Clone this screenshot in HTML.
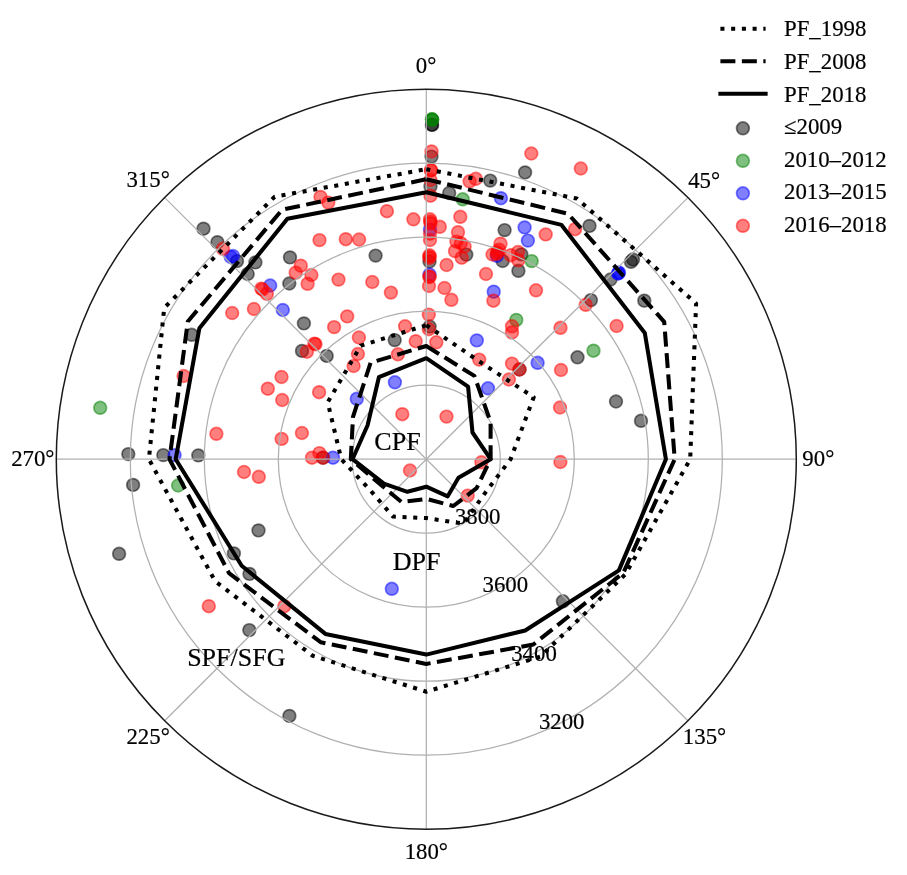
<!DOCTYPE html>
<html lang="en"><head><meta charset="utf-8"><title>Polar permafrost chart</title>
<style>html,body{margin:0;padding:0;background:#fff}svg{display:block}text{font-family:"Liberation Serif", "Times New Roman", serif;font-size:22.8px;fill:#000;stroke:#000;stroke-width:0.2px}</style>
</head><body>
<svg width="907" height="875" viewBox="0 0 907 875">
<rect width="907" height="875" fill="#fff"/>
<g fill="#000" fill-opacity="0.5" stroke="#000" stroke-opacity="0.5" stroke-width="1.7">
<circle cx="432" cy="124.7" r="6.35"/>
<circle cx="432" cy="124.9" r="6.35"/>
<circle cx="431.5" cy="156.6" r="6.35"/>
<circle cx="430.5" cy="186.4" r="6.35"/>
<circle cx="429.5" cy="261.5" r="6.35"/>
<circle cx="429.6" cy="326.5" r="6.35"/>
<circle cx="375.6" cy="255.6" r="6.35"/>
<circle cx="449.2" cy="193" r="6.35"/>
<circle cx="490.2" cy="180.6" r="6.35"/>
<circle cx="525.1" cy="172.4" r="6.35"/>
<circle cx="504.6" cy="230.1" r="6.35"/>
<circle cx="466.3" cy="254.6" r="6.35"/>
<circle cx="502.6" cy="261" r="6.35"/>
<circle cx="518.4" cy="270.8" r="6.35"/>
<circle cx="521.3" cy="254.4" r="6.35"/>
<circle cx="589.5" cy="225.9" r="6.35"/>
<circle cx="633" cy="259.5" r="6.35"/>
<circle cx="631" cy="261.8" r="6.35"/>
<circle cx="610.5" cy="279.5" r="6.35"/>
<circle cx="590.9" cy="300.1" r="6.35"/>
<circle cx="644.3" cy="300.7" r="6.35"/>
<circle cx="577.5" cy="357.3" r="6.35"/>
<circle cx="616" cy="401.5" r="6.35"/>
<circle cx="641" cy="420.8" r="6.35"/>
<circle cx="562.9" cy="601.3" r="6.35"/>
<circle cx="233.9" cy="553.4" r="6.35"/>
<circle cx="249.5" cy="573.9" r="6.35"/>
<circle cx="249.3" cy="630.1" r="6.35"/>
<circle cx="289.4" cy="715.9" r="6.35"/>
<circle cx="128.3" cy="454.1" r="6.35"/>
<circle cx="163.3" cy="455.1" r="6.35"/>
<circle cx="198.3" cy="455.4" r="6.35"/>
<circle cx="133.1" cy="484.9" r="6.35"/>
<circle cx="258.5" cy="530.4" r="6.35"/>
<circle cx="119.1" cy="553.8" r="6.35"/>
<circle cx="203.5" cy="228.7" r="6.35"/>
<circle cx="217.4" cy="242.2" r="6.35"/>
<circle cx="237" cy="261.1" r="6.35"/>
<circle cx="255.4" cy="262.4" r="6.35"/>
<circle cx="247.7" cy="274" r="6.35"/>
<circle cx="290" cy="257.4" r="6.35"/>
<circle cx="289.3" cy="283.5" r="6.35"/>
<circle cx="303.9" cy="323.4" r="6.35"/>
<circle cx="191.7" cy="334.8" r="6.35"/>
<circle cx="302" cy="350.9" r="6.35"/>
<circle cx="326.7" cy="355.9" r="6.35"/>
<circle cx="394.7" cy="340.1" r="6.35"/>
<circle cx="519.5" cy="369.5" r="6.35"/>
<circle cx="323" cy="457.7" r="6.35"/>
</g>
<g fill="#008000" fill-opacity="0.5" stroke="#008000" stroke-opacity="0.5" stroke-width="1.7">
<circle cx="432" cy="119.5" r="6.35"/>
<circle cx="432" cy="119.3" r="6.35"/>
<circle cx="432.2" cy="119.8" r="6.35"/>
<circle cx="462.7" cy="199.3" r="6.35"/>
<circle cx="531.7" cy="261.1" r="6.35"/>
<circle cx="593.5" cy="350.7" r="6.35"/>
<circle cx="516.3" cy="319.9" r="6.35"/>
<circle cx="100.2" cy="407.8" r="6.35"/>
<circle cx="178.1" cy="485.5" r="6.35"/>
</g>
<g fill="#00f" fill-opacity="0.5" stroke="#00f" stroke-opacity="0.5" stroke-width="1.7">
<circle cx="430" cy="229.6" r="6.35"/>
<circle cx="429.5" cy="274.5" r="6.35"/>
<circle cx="500.9" cy="198.2" r="6.35"/>
<circle cx="524.6" cy="227.4" r="6.35"/>
<circle cx="527.9" cy="240.6" r="6.35"/>
<circle cx="496.9" cy="255.8" r="6.35"/>
<circle cx="618" cy="273.5" r="6.35"/>
<circle cx="619" cy="272.5" r="6.35"/>
<circle cx="618.4" cy="273.2" r="6.35"/>
<circle cx="493.7" cy="291.7" r="6.35"/>
<circle cx="476.8" cy="340.4" r="6.35"/>
<circle cx="537.6" cy="362.8" r="6.35"/>
<circle cx="488" cy="388.3" r="6.35"/>
<circle cx="391.8" cy="588.8" r="6.35"/>
<circle cx="174.6" cy="455.1" r="6.35"/>
<circle cx="230.8" cy="257" r="6.35"/>
<circle cx="233" cy="256" r="6.35"/>
<circle cx="270.2" cy="285.5" r="6.35"/>
<circle cx="282.8" cy="310" r="6.35"/>
<circle cx="394.9" cy="382.3" r="6.35"/>
<circle cx="356.8" cy="398.8" r="6.35"/>
<circle cx="333" cy="457.7" r="6.35"/>
</g>
<g fill="#f00" fill-opacity="0.5" stroke="#f00" stroke-opacity="0.5" stroke-width="1.7">
<circle cx="431.5" cy="151.4" r="6.35"/>
<circle cx="431" cy="170" r="6.35"/>
<circle cx="431" cy="170.5" r="6.35"/>
<circle cx="430.3" cy="221.5" r="6.35"/>
<circle cx="429.5" cy="256.5" r="6.35"/>
<circle cx="429.5" cy="276.5" r="6.35"/>
<circle cx="430.5" cy="180" r="6.35"/>
<circle cx="430.5" cy="195.7" r="6.35"/>
<circle cx="430" cy="219.3" r="6.35"/>
<circle cx="430.5" cy="223.4" r="6.35"/>
<circle cx="430" cy="233.7" r="6.35"/>
<circle cx="430" cy="240" r="6.35"/>
<circle cx="429.5" cy="255.3" r="6.35"/>
<circle cx="429.5" cy="258" r="6.35"/>
<circle cx="429.5" cy="277" r="6.35"/>
<circle cx="429" cy="286" r="6.35"/>
<circle cx="428.8" cy="314.6" r="6.35"/>
<circle cx="428.8" cy="329.2" r="6.35"/>
<circle cx="386.9" cy="211.2" r="6.35"/>
<circle cx="413.4" cy="219.3" r="6.35"/>
<circle cx="345.8" cy="239.2" r="6.35"/>
<circle cx="359.1" cy="239.5" r="6.35"/>
<circle cx="372.3" cy="282" r="6.35"/>
<circle cx="338.5" cy="279.6" r="6.35"/>
<circle cx="439.8" cy="226.8" r="6.35"/>
<circle cx="460.3" cy="216.8" r="6.35"/>
<circle cx="458" cy="232.2" r="6.35"/>
<circle cx="456.4" cy="241.6" r="6.35"/>
<circle cx="460.8" cy="243.2" r="6.35"/>
<circle cx="464.6" cy="246.5" r="6.35"/>
<circle cx="455" cy="251.1" r="6.35"/>
<circle cx="461.7" cy="257.7" r="6.35"/>
<circle cx="446.6" cy="265" r="6.35"/>
<circle cx="469.6" cy="181.3" r="6.35"/>
<circle cx="475.8" cy="178.8" r="6.35"/>
<circle cx="500.5" cy="243.7" r="6.35"/>
<circle cx="499" cy="249.7" r="6.35"/>
<circle cx="492.5" cy="254.5" r="6.35"/>
<circle cx="496.9" cy="253.8" r="6.35"/>
<circle cx="497.2" cy="252.2" r="6.35"/>
<circle cx="486" cy="274" r="6.35"/>
<circle cx="510.8" cy="255.2" r="6.35"/>
<circle cx="518" cy="252" r="6.35"/>
<circle cx="518.3" cy="260.3" r="6.35"/>
<circle cx="531.3" cy="153.5" r="6.35"/>
<circle cx="580.8" cy="168.5" r="6.35"/>
<circle cx="545.7" cy="234.4" r="6.35"/>
<circle cx="575.1" cy="229.2" r="6.35"/>
<circle cx="585.7" cy="304.8" r="6.35"/>
<circle cx="560.5" cy="327.8" r="6.35"/>
<circle cx="616.6" cy="326" r="6.35"/>
<circle cx="561" cy="370" r="6.35"/>
<circle cx="560" cy="407.5" r="6.35"/>
<circle cx="560.4" cy="462" r="6.35"/>
<circle cx="208.8" cy="606.2" r="6.35"/>
<circle cx="284.3" cy="606.2" r="6.35"/>
<circle cx="216.4" cy="433.8" r="6.35"/>
<circle cx="244" cy="472" r="6.35"/>
<circle cx="258.8" cy="476.8" r="6.35"/>
<circle cx="183.6" cy="376" r="6.35"/>
<circle cx="223" cy="248.8" r="6.35"/>
<circle cx="300.8" cy="265.7" r="6.35"/>
<circle cx="295.7" cy="272.7" r="6.35"/>
<circle cx="311.4" cy="275" r="6.35"/>
<circle cx="307.6" cy="283.8" r="6.35"/>
<circle cx="261.3" cy="288.6" r="6.35"/>
<circle cx="262.5" cy="289.5" r="6.35"/>
<circle cx="266.9" cy="293.8" r="6.35"/>
<circle cx="232.2" cy="313" r="6.35"/>
<circle cx="253.9" cy="309" r="6.35"/>
<circle cx="306.9" cy="351.7" r="6.35"/>
<circle cx="281.5" cy="377" r="6.35"/>
<circle cx="267.8" cy="388.7" r="6.35"/>
<circle cx="282.2" cy="400" r="6.35"/>
<circle cx="320.5" cy="196.9" r="6.35"/>
<circle cx="328.3" cy="202.6" r="6.35"/>
<circle cx="319.5" cy="240.1" r="6.35"/>
<circle cx="390.9" cy="292.6" r="6.35"/>
<circle cx="444.5" cy="288" r="6.35"/>
<circle cx="451.4" cy="299.8" r="6.35"/>
<circle cx="347.2" cy="316.4" r="6.35"/>
<circle cx="334.1" cy="327.1" r="6.35"/>
<circle cx="358.9" cy="337.5" r="6.35"/>
<circle cx="314.4" cy="343.6" r="6.35"/>
<circle cx="315.5" cy="344.2" r="6.35"/>
<circle cx="357.9" cy="354" r="6.35"/>
<circle cx="353.6" cy="366" r="6.35"/>
<circle cx="405.1" cy="326.3" r="6.35"/>
<circle cx="415.7" cy="341.2" r="6.35"/>
<circle cx="436.3" cy="342.3" r="6.35"/>
<circle cx="397.9" cy="354.3" r="6.35"/>
<circle cx="319.1" cy="392.2" r="6.35"/>
<circle cx="402.3" cy="414.2" r="6.35"/>
<circle cx="446.5" cy="416.6" r="6.35"/>
<circle cx="493.4" cy="300.7" r="6.35"/>
<circle cx="536" cy="290.3" r="6.35"/>
<circle cx="512" cy="326.3" r="6.35"/>
<circle cx="512" cy="332.4" r="6.35"/>
<circle cx="479.2" cy="359.6" r="6.35"/>
<circle cx="512" cy="363.6" r="6.35"/>
<circle cx="519.5" cy="369.5" r="6.35"/>
<circle cx="508.9" cy="379.5" r="6.35"/>
<circle cx="481.4" cy="462.3" r="6.35"/>
<circle cx="410" cy="470.5" r="6.35"/>
<circle cx="467.7" cy="495.6" r="6.35"/>
<circle cx="301.9" cy="433" r="6.35"/>
<circle cx="281.6" cy="438.9" r="6.35"/>
<circle cx="312" cy="457.7" r="6.35"/>
<circle cx="319.4" cy="453.1" r="6.35"/>
<circle cx="323" cy="457.7" r="6.35"/>
</g>
<g fill="none" stroke="#b0b0b0" stroke-width="1.25">
<circle cx="426.3" cy="459.2" r="74"/>
<circle cx="426.3" cy="459.2" r="148"/>
<circle cx="426.3" cy="459.2" r="222"/>
<circle cx="426.3" cy="459.2" r="296"/>
<line x1="426.3" y1="459.2" x2="426.3" y2="89.2"/>
<line x1="426.3" y1="459.2" x2="687.9" y2="197.6"/>
<line x1="426.3" y1="459.2" x2="796.3" y2="459.2"/>
<line x1="426.3" y1="459.2" x2="687.9" y2="720.8"/>
<line x1="426.3" y1="459.2" x2="426.3" y2="829.2"/>
<line x1="426.3" y1="459.2" x2="164.7" y2="720.8"/>
<line x1="426.3" y1="459.2" x2="56.3" y2="459.2"/>
<line x1="426.3" y1="459.2" x2="164.7" y2="197.6"/>
</g>
<polygon points="426.3,169.2 576.8,198.5 696.1,303.4 690.2,459.2 625.5,574.2 540.3,656.7 426.3,691.7 312.8,655.8 215.1,581.2 148.9,459.2 164.2,307.9 274.7,196.7" fill="none" stroke="#000" stroke-width="4.05" stroke-linejoin="round" stroke-dasharray="4.05 6.68"/>
<polygon points="426.3,179.2 568.0,213.7 664.2,321.8 674.7,459.2 623.3,572.9 533.3,644.5 426.3,663.9 320.6,642.2 229.0,573.1 169.5,459.2 187.8,321.5 282.2,209.7" fill="none" stroke="#000" stroke-width="4.05" stroke-linejoin="round" stroke-dasharray="14.98 6.48"/>
<polygon points="426.3,192.2 561.5,224.9 644.8,333.0 665.9,459.2 618.9,570.4 525.2,630.5 426.3,654.6 325.4,633.9 241.7,565.8 175.7,459.2 199.4,328.2 287.4,218.7" fill="none" stroke="#000" stroke-width="4.05" stroke-linejoin="round" />
<polygon points="426.3,325.2 481.8,363.1 533.7,397.2 510.6,459.2 485.0,493.1 463.5,523.6 426.3,518.1 393.1,516.6 371.0,491.1 341.3,459.2 327.7,402.3 360.7,345.7" fill="none" stroke="#000" stroke-width="4.05" stroke-linejoin="round" stroke-dasharray="4.05 6.68"/>
<polygon points="426.3,346.0 474.4,375.9 490.6,422.1 490.6,459.2 476.6,488.2 453.3,506.0 426.3,498.9 401.6,502.1 381.3,485.2 350.8,459.2 353.0,416.9 370.6,362.7" fill="none" stroke="#000" stroke-width="4.05" stroke-linejoin="round" stroke-dasharray="14.98 6.48"/>
<polygon points="426.3,358.2 468.1,386.7 472.5,432.5 490.6,459.2 458.5,477.8 447.7,496.3 426.3,486.7 407.4,491.8 383.9,483.7 352.5,459.2 367.6,425.3 378.9,377.2" fill="none" stroke="#000" stroke-width="4.05" stroke-linejoin="round" />
<circle cx="426.3" cy="459.2" r="370.0" fill="none" stroke="#1a1a1a" stroke-width="1.5"/>
<text x="426.0" y="72.5" text-anchor="middle">0°</text>
<text x="704.1" y="187.8" text-anchor="middle">45°</text>
<text x="818.3" y="465.5" text-anchor="middle">90°</text>
<text x="704.5" y="743.7" text-anchor="middle">135°</text>
<text x="426.3" y="859.0" text-anchor="middle">180°</text>
<text x="148.1" y="743.7" text-anchor="middle">225°</text>
<text x="32.8" y="465.5" text-anchor="middle">270°</text>
<text x="148.1" y="187.3" text-anchor="middle">315°</text>
<text x="477.7" y="523.5" text-anchor="middle">3800</text>
<text x="505.3" y="592" text-anchor="middle">3600</text>
<text x="534" y="660.9" text-anchor="middle">3400</text>
<text x="561.7" y="728.7" text-anchor="middle">3200</text>
<text x="397.5" y="450.4" text-anchor="middle" style="font-size:26px">CPF</text>
<text x="416.6" y="570.4" text-anchor="middle" style="font-size:26px">DPF</text>
<text x="236.3" y="665.5" text-anchor="middle" style="font-size:26px">SPF/SFG</text>
<line x1="720.4" y1="28.7" x2="765.6" y2="28.7" stroke="#000" stroke-width="4.05" stroke-dasharray="4.05 6.68"/>
<line x1="720.4" y1="61.2" x2="765.6" y2="61.2" stroke="#000" stroke-width="4.05" stroke-dasharray="14.98 6.48"/>
<line x1="720.4" y1="93.7" x2="765.6" y2="93.7" stroke="#000" stroke-width="4.05"  stroke-linecap="square"/>
<text x="784" y="36.4">PF_1998</text>
<text x="784" y="69.0">PF_2008</text>
<text x="784" y="101.6">PF_2018</text>
<text x="784" y="134.2">≤2009</text>
<text x="784" y="166.8">2010–2012</text>
<text x="784" y="199.4">2013–2015</text>
<text x="784" y="232.0">2016–2018</text>
<circle cx="742.9" cy="128.3" r="6.35" fill="#000" fill-opacity="0.5" stroke="#000" stroke-opacity="0.5" stroke-width="1.7"/>
<circle cx="742.9" cy="160.8" r="6.35" fill="#008000" fill-opacity="0.5" stroke="#008000" stroke-opacity="0.5" stroke-width="1.7"/>
<circle cx="742.9" cy="193.3" r="6.35" fill="#00f" fill-opacity="0.5" stroke="#00f" stroke-opacity="0.5" stroke-width="1.7"/>
<circle cx="742.9" cy="225.8" r="6.35" fill="#f00" fill-opacity="0.5" stroke="#f00" stroke-opacity="0.5" stroke-width="1.7"/>
</svg></body></html>
